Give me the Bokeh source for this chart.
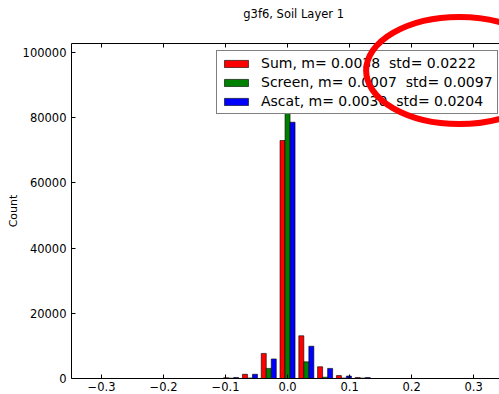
from bokeh.plotting import figure
from bokeh.layouts import column
from bokeh.models import (ColumnDataSource, Range1d, FixedTicker, LinearAxis, Legend,
                          LegendItem, BasicTickFormatter)
from bokeh.core.properties import value
from bokeh.embed import file_html
from bokeh.resources import INLINE

# ---------------- data ----------------
bin_centers = [-0.0909, -0.0606, -0.0303, 0.0, 0.0303, 0.0606, 0.0909, 0.1212]
bin_width = 0.0303
sum_counts = [250, 1300, 7700, 73000, 13100, 3600, 900, 300]
screen_counts = [100, 150, 3100, 90000, 5100, 400, 150, 120]
ascat_counts = [300, 1300, 6000, 78600, 9900, 3100, 750, 280]
series_labels = ["Sum, m= 0.0038  std= 0.0222",
                 "Screen, m= 0.0007  std= 0.0097",
                 "Ascat, m= 0.0030  std= 0.0204"]
series_colors = ["#ff0000", "#008000", "#0000ff"]
x_ticks = [-0.3, -0.2, -0.1, 0.0, 0.1, 0.2, 0.3]
x_tick_labels = ["\u22120.3", "\u22120.2", "\u22120.1", "0.0", "0.1", "0.2", "0.3"]
y_ticks = [0, 20000, 40000, 60000, 80000, 100000]
title_text = "g3f6, Soil Layer 1"
y_label = "Count"

FONT = "DejaVu Sans"
W, H = 499, 394
B_TOP, B_BOTTOM, B_LEFT = 43, 16, 71
FRAME_H = H - B_TOP - B_BOTTOM

p = figure(width=W, height=H, output_backend="svg", toolbar_location=None,
           x_range=Range1d(-0.3484, 0.3418), y_range=Range1d(0, 102750),
           min_border_left=B_LEFT, min_border_right=0, min_border_top=B_TOP,
           min_border_bottom=B_BOTTOM, title=None)

p.outline_line_color = None
p.xgrid.visible = False
p.ygrid.visible = False
p.background_fill_color = "white"
p.border_fill_color = "white"

# bars
bar_w = bin_width * 0.8 / 3
renderers = []
for i, (counts, col) in enumerate(zip([sum_counts, screen_counts, ascat_counts], series_colors)):
    xs = [c + (i - 1) * bar_w for c in bin_centers]
    src = ColumnDataSource(dict(x=xs, top=counts))
    r = p.vbar(x="x", top="top", width=bar_w, bottom=0, source=src,
               fill_color=col, line_color="black", line_width=0.6)
    renderers.append(r)

# axes
for ax in [p.xaxis[0], p.yaxis[0]]:
    ax.major_tick_in = 4
    ax.major_tick_out = 0
    ax.minor_tick_in = 0
    ax.minor_tick_out = 0
    ax.axis_line_color = "black"
    ax.major_tick_line_color = "black"
    ax.major_label_text_font = FONT
    ax.major_label_text_font_size = "11.5px"
    ax.major_label_text_color = "#000000"

p.xaxis.ticker = FixedTicker(ticks=x_ticks)
p.xaxis.major_label_overrides = {t: l for t, l in zip(x_ticks, x_tick_labels)}
p.xaxis.major_label_standoff = 3

p.yaxis.ticker = FixedTicker(ticks=y_ticks)
p.yaxis.formatter = BasicTickFormatter(use_scientific=False)
p.yaxis.major_label_standoff = 5
p.yaxis.axis_label = y_label
p.yaxis.axis_label_text_font = FONT
p.yaxis.axis_label_text_font_size = "11px"
p.yaxis.axis_label_text_font_style = "normal"
p.yaxis.axis_label_text_color = "#000000"
p.yaxis.axis_label_standoff = 0

top_ax = LinearAxis(ticker=FixedTicker(ticks=x_ticks), major_label_text_color=None,
                    major_label_text_font_size="11.5px",
                    major_tick_in=4, major_tick_out=0, minor_tick_in=0, minor_tick_out=0,
                    major_label_standoff=0, axis_line_color="black")
p.add_layout(top_ax, "above")

legend = Legend(items=[LegendItem(label=l, renderers=[r]) for l, r in zip(series_labels, renderers)],
                location=(145, FRAME_H - 71), label_text_font=FONT, label_text_font_size="14px",
                label_text_color="#000000", glyph_width=30, glyph_height=9,
                label_height=15, spacing=3, padding=4, label_standoff=10, margin=0,
                border_line_color="black", border_line_width=1,
                background_fill_color="white", background_fill_alpha=1.0)
p.add_layout(legend, "center")

# transparent overlay in canvas pixels: the title and the red hand-drawn ellipse
OV_DX = -21  # measured horizontal offset of the absolutely positioned overlay
ov = figure(width=W, height=H, output_backend="svg", toolbar_location=None, title=None,
            x_range=Range1d(-OV_DX, W - OV_DX), y_range=Range1d(H, 0),
            x_axis_type=None, y_axis_type=None,
            min_border=0, min_border_left=0, min_border_right=0,
            min_border_top=0, min_border_bottom=0,
            styles={"position": "absolute", "top": "0px", "left": "0px",
                    "z-index": "10", "pointer-events": "none"})
ov.outline_line_color = None
ov.grid.visible = False
ov.background_fill_alpha = 0
ov.border_fill_alpha = 0
ov.text(x=[280], y=[13], text=[title_text], text_font=value(FONT), text_font_size="11.5px",
        text_align="center", text_baseline="middle", text_color="#000000")
ov.ellipse(x=[473], y=[70], width=[217], height=[107], fill_color=None,
           line_color="#ff0000", line_width=6)

layout = column(p, ov, styles={"position": "relative"})
open("out.html", "w").write(file_html(layout, INLINE))
